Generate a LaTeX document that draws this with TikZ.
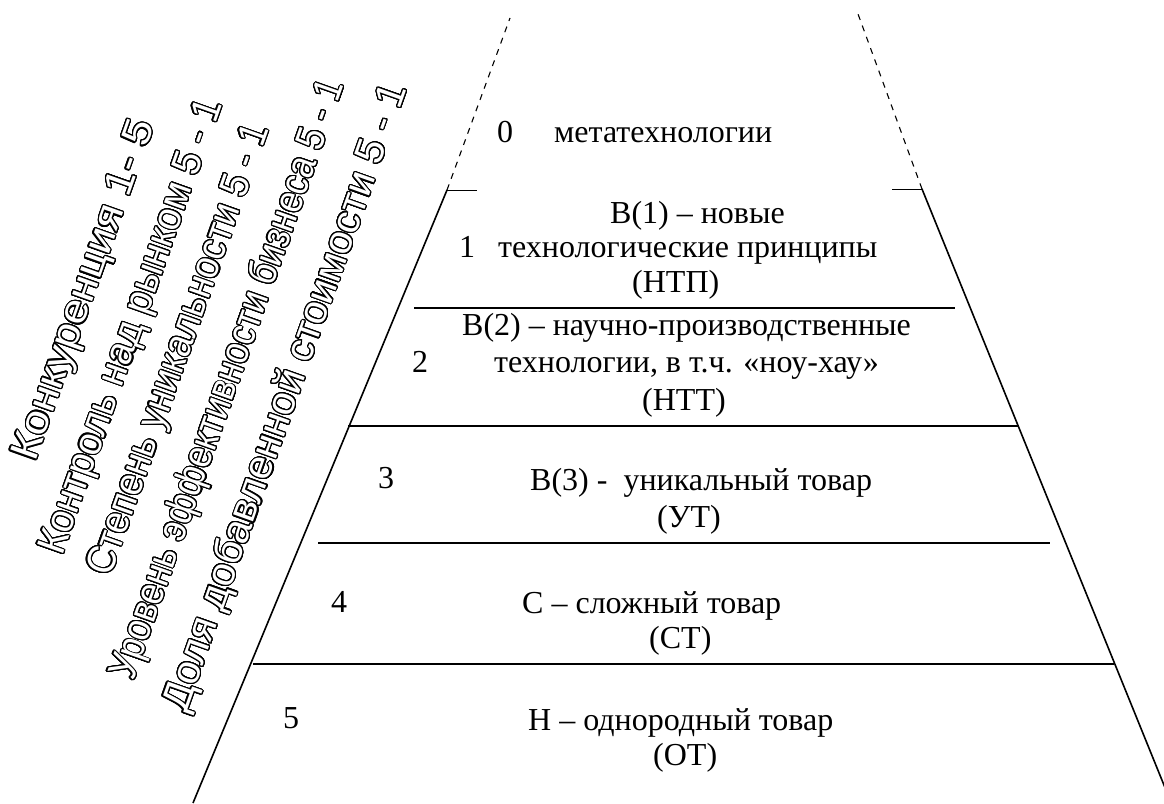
\documentclass[tikz,border=0pt]{standalone}
\usepackage{fontspec}
\setmainfont{Liberation Serif}
\newfontfamily\srf{Liberation Serif}
\newfontfamily\wafont{Liberation Sans}
\usepackage{graphicx}
\usepackage{contour}
\contourlength{1.1pt}
\contournumber{32}
\newcommand\wordart[2]{%
  \sbox0{\wafont\fontsize{40}{42}\selectfont #2}%
  \pgfmathsetmacro\waScale{#1/\the\wd0}%
  \scalebox{\waScale}[1]{\wafont\fontsize{40}{42}\selectfont\contour{black}{#2}}}
\begin{document}
\begin{tikzpicture}[x=1pt,y=-1pt,
  edge/.style={line width=1.6pt,black},
  thinln/.style={line width=0.9pt,black},
  dashln/.style={line width=1.1pt,black,dash pattern=on 6pt off 6pt},
  lbl/.style={font=\srf\fontsize{32}{35}\selectfont,inner sep=0pt,anchor=base},
  lblw/.style={lbl,anchor=base west},
  wa/.style={text=white,inner sep=0pt,anchor=base west,rotate=70.5}]
\useasboundingbox (0,0) rectangle (1164,803);
% pyramid corners
\coordinate (LT) at (447,190);
\coordinate (LB) at (193,803);
\coordinate (RT) at (922,189);
\coordinate (RB) at (1168,795);
\coordinate (LD) at (510,18);
\coordinate (RD) at (858,14);
\coordinate (LS) at (477,190);
\coordinate (RS) at (892,189);
\draw[edge] (LT) -- (LB);
\draw[edge] (RT) -- (RB);
\draw[dashln] (LT) -- (LD);
\draw[dashln] (RT) -- (RD);
\draw[thinln] (LT) -- (LS);
\draw[thinln] (RS) -- (RT);
% horizontal separators
\coordinate (h1a) at (414,308); \coordinate (h1b) at (955,308);
\coordinate (h2a) at (348,426); \coordinate (h2b) at (1018,426);
\coordinate (h3a) at (318,543); \coordinate (h3b) at (1050,543);
\coordinate (h4a) at (253,664); \coordinate (h4b) at (1114,664);
\draw[edge] (h1a) -- (h1b);
\draw[edge] (h2a) -- (h2b);
\draw[edge] (h3a) -- (h3b);
\draw[edge] (h4a) -- (h4b);
% level texts
\node[lbl] (n0) at (505,142) {0};
\node[lblw] (t0) at (554,142) {метатехнологии};
\node[lblw] (t1a) at (610,223) {В(1) – новые};
\node[lbl] (n1) at (467,257) {1};
\node[lblw] (t1b) at (498,257) {технологические принципы};
\node[lblw] (t1c) at (632,292) {(НТП)};
\node[lblw] (t2a) at (462,335) {В(2) – научно-производственные};
\node[lbl] (n2) at (420,372) {2};
\node[lblw] (t2b) at (494,372) {технологии, в т.ч. «ноу-хау»};
\node[lblw] (t2c) at (642,410) {(НТТ)};
\node[lbl] (n3) at (386,488) {3};
\node[lblw] (t3a) at (530,490) {В(3) -\ \ уникальный товар};
\node[lblw] (t3b) at (657,527) {(УТ)};
\node[lbl] (n4) at (339,612) {4};
\node[lblw] (t4a) at (522,613) {С – сложный товар};
\node[lblw] (t4b) at (649,648) {(СТ)};
\node[lbl] (n5) at (291,728) {5};
\node[lblw] (t5a) at (528,730) {Н – однородный товар};
\node[lblw] (t5b) at (653,765) {(ОТ)};
% rotated outlined criteria
\node[wa] (c1) at (35,463) {\wordart{358}{Конкуренция 1- 5}};
\node[wa] (c2) at (62,557) {\wordart{480}{Контроль над рынком 5 - 1}};
\node[wa] (c3) at (110,578) {\wordart{476}{Степень уникальности 5 - 1}};
\node[wa] (c4) at (133,682) {\wordart{633}{Уровень эффективности бизнеса 5 - 1}};
\node[wa] (c5) at (186,714) {\wordart{663}{Доля добавленной стоимости 5 - 1}};
\end{tikzpicture}
\end{document}
